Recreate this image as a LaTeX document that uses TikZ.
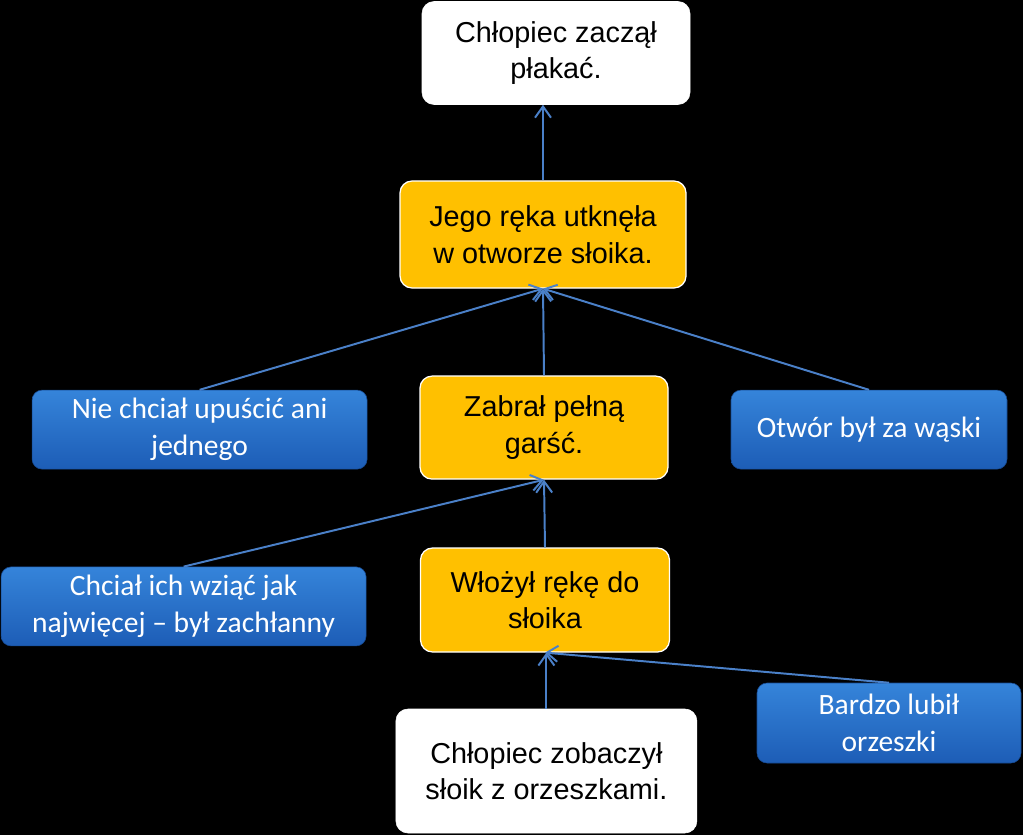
\documentclass[tikz,border=0pt]{standalone}
\usepackage{fontspec}
\setmainfont{Liberation Sans}
\newfontfamily\calibri{Carlito}
\usepackage{xcolor}
\usetikzlibrary{arrows.meta, positioning, calc}
\definecolor{jarorange}{HTML}{FFC000}
\definecolor{bluetop}{HTML}{3584DA}
\definecolor{bluebot}{HTML}{1D5DB6}
\definecolor{linkblue}{HTML}{4A80C8}

\begin{document}
\begin{tikzpicture}[
  box/.style={rounded corners=0.3cm, align=center, inner sep=2pt,
              font=\fontsize{20.5}{26}\selectfont},
  event/.style={box, fill=white, draw=white},
  stage/.style={box, fill=jarorange, draw=white, line width=0.9pt},
  cause/.style={rounded corners=0.25cm, align=center, inner sep=2pt,
                top color=bluetop, bottom color=bluebot, draw=bluebot!80!black,
                text=white, font=\calibri\fontsize{21}{26.5}\selectfont},
  arr/.style={-{Straight Barb[length=2.8mm, width=4mm]}, linkblue, line width=1.4pt}
]
\fill[black] (0,0) rectangle (25.575,-20.875);

% main chain
\node[event, minimum width=6.7cm, minimum height=2.575cm] (cry) at (13.9,-1.325)
  {Chłopiec zaczął\\płakać.};
\node[stage, minimum width=7.15cm, minimum height=2.675cm] (stuck) at (13.575,-5.8625)
  {Jego ręka utknęła\\w otworze słoika.};
\node[stage, minimum width=6.2cm, minimum height=2.575cm] (grab) at (13.6,-10.69)
  {Zabrał pełną\\garść.};
\node[stage, minimum width=6.225cm, minimum height=2.6cm] (hand) at (13.625,-15.0)
  {Włożył rękę do\\słoika};
\node[event, minimum width=7.525cm, minimum height=3.1cm] (saw) at (13.66,-19.275)
  {Chłopiec zobaczył\\słoik z orzeszkami.};

% reasons
\node[cause, minimum width=8.375cm, minimum height=1.975cm] (drop) at (4.99,-10.74)
  {Nie chciał upuścić ani\\jednego};
\node[cause, minimum width=6.9cm, minimum height=1.975cm] (narrow) at (21.725,-10.74)
  {Otwór był za wąski};
\node[cause, minimum width=9.125cm, minimum height=1.975cm] (greedy) at (4.59,-15.16)
  {Chciał ich wziąć jak\\najwięcej – był zachłanny};
\node[cause, minimum width=6.6cm, minimum height=2.0cm] (nuts) at (22.225,-18.075)
  {Bardzo lubił\\orzeszki};

\draw[arr] (stuck.north) -- (stuck.north |- cry.south);
\draw[arr] (grab.north) -- (stuck.south);
\draw[arr] (drop.north) -- (stuck.south);
\draw[arr] (narrow.north) -- (stuck.south);
\draw[arr] (hand.north) -- (grab.south);
\draw[arr] (greedy.north) -- (grab.south);
\draw[arr] (saw.north) -- (saw.north |- hand.south);
\draw[arr] (nuts.north) -- (hand.south);
\end{tikzpicture}
\end{document}
